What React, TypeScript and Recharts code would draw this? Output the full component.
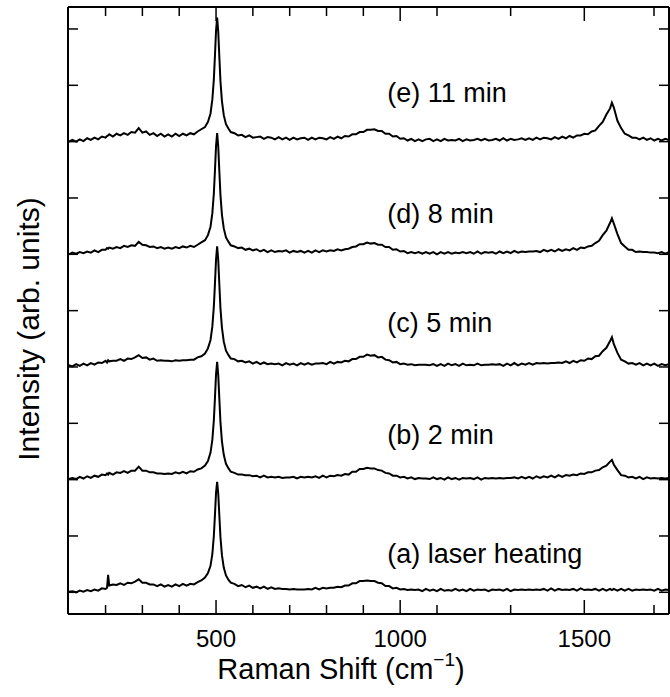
import { LineChart, Line, XAxis, YAxis, ReferenceDot, Label } from "recharts";

// Raman shift (cm-1), shared by every spectrum
const shift = [
  100, 110, 120, 130, 140, 150, 160, 170, 180, 190,
  200, 204, 207, 210, 220, 230, 240, 250, 260, 270, 280, 290,
  300, 310, 320, 330, 340, 350, 360, 370, 380, 390,
  400, 410, 420, 430, 440, 450, 460,
  470, 478, 485, 490, 494, 497, 500, 503, 506, 509, 512, 516, 521, 527, 534, 540,
  550, 560, 570, 580, 590, 600, 610, 620, 630, 640,
  650, 660, 670, 680, 690, 700, 710, 720, 730, 740,
  750, 760, 770, 780, 790, 800, 810, 820, 830, 840,
  850, 860, 870, 880, 890, 900, 910, 920, 930, 940,
  950, 960, 970, 980, 990, 1000, 1010, 1020, 1030, 1040,
  1050, 1060, 1070, 1080, 1090, 1100, 1110, 1120, 1130, 1140,
  1150, 1160, 1170, 1180, 1190, 1200, 1210, 1220, 1230, 1240,
  1250, 1260, 1270, 1280, 1290, 1300, 1310, 1320, 1330, 1340,
  1350, 1360, 1370, 1380, 1390, 1400, 1410, 1420, 1430, 1440,
  1450, 1460, 1470, 1480, 1490, 1500, 1510, 1520, 1530, 1540,
  1550, 1560, 1570, 1575,
  1580, 1590, 1600, 1610, 1620, 1630, 1640, 1650, 1660, 1670, 1680, 1690, 1700, 1710, 1720, 1730,
];

// (a) laser heating
const traceA = [
  0.01, 0.02, 0.00, 0.03, 0.01, 0.04, 0.02, 0.05, 0.03, 0.07,
  0.06, 0.08, 0.31, 0.12, 0.14, 0.13, 0.16, 0.13, 0.17, 0.16, 0.19, 0.23,
  0.17, 0.17, 0.14, 0.14, 0.11, 0.14, 0.10, 0.13, 0.10, 0.14,
  0.11, 0.15, 0.12, 0.15, 0.14, 0.18, 0.21,
  0.26, 0.34, 0.47, 0.68, 1.00, 1.37, 1.77, 1.96, 1.75, 1.36, 0.98, 0.66, 0.44, 0.30, 0.22, 0.17,
  0.15, 0.11, 0.13, 0.09, 0.12, 0.08, 0.10, 0.07, 0.10, 0.06,
  0.09, 0.06, 0.07, 0.06, 0.06, 0.05, 0.06, 0.05, 0.05, 0.05,
  0.06, 0.05, 0.08, 0.05, 0.08, 0.07, 0.08, 0.08, 0.10, 0.09,
  0.12, 0.12, 0.16, 0.16, 0.20, 0.20, 0.21, 0.20, 0.20, 0.17,
  0.16, 0.11, 0.11, 0.07, 0.08, 0.05, 0.06, 0.04, 0.05, 0.04,
  0.05, 0.02, 0.06, 0.03, 0.05, 0.02, 0.06, 0.03, 0.04, 0.03,
  0.06, 0.03, 0.05, 0.02, 0.06, 0.03, 0.05, 0.04, 0.05, 0.02,
  0.05, 0.04, 0.05, 0.03, 0.06, 0.02, 0.05, 0.04, 0.05, 0.04,
  0.05, 0.04, 0.05, 0.04, 0.06, 0.03, 0.07, 0.03, 0.06, 0.04,
  0.05, 0.04, 0.06, 0.03, 0.07, 0.04, 0.05, 0.04, 0.06, 0.03,
  0.06, 0.03, 0.06, 0.04,
  0.06, 0.03, 0.06, 0.03, 0.06, 0.03, 0.05, 0.04, 0.05, 0.04, 0.05, 0.03, 0.06, 0.03, 0.05, 0.04,
];

// (b) 2 min
const traceB = [
  0.01, 0.03, 0.01, 0.05, 0.02, 0.06, 0.03, 0.07, 0.05, 0.09,
  0.08, 0.11, 0.09, 0.12, 0.09, 0.13, 0.12, 0.15, 0.12, 0.16, 0.16, 0.23,
  0.16, 0.16, 0.13, 0.13, 0.11, 0.11, 0.10, 0.11, 0.10, 0.13,
  0.11, 0.14, 0.11, 0.15, 0.14, 0.18, 0.20,
  0.25, 0.33, 0.48, 0.71, 1.05, 1.44, 1.87, 2.09, 1.85, 1.43, 1.02, 0.68, 0.44, 0.28, 0.20, 0.14,
  0.12, 0.09, 0.09, 0.08, 0.08, 0.06, 0.07, 0.04, 0.07, 0.04,
  0.05, 0.04, 0.05, 0.03, 0.04, 0.04, 0.05, 0.02, 0.05, 0.04,
  0.05, 0.04, 0.06, 0.03, 0.07, 0.04, 0.07, 0.06, 0.08, 0.07,
  0.10, 0.09, 0.14, 0.14, 0.19, 0.19, 0.21, 0.20, 0.20, 0.17,
  0.16, 0.12, 0.11, 0.07, 0.07, 0.04, 0.05, 0.02, 0.04, 0.01,
  0.03, 0.02, 0.02, 0.01, 0.04, 0.01, 0.03, 0.00, 0.04, 0.01,
  0.03, 0.00, 0.03, 0.02, 0.03, 0.01, 0.04, 0.00, 0.03, 0.02,
  0.03, 0.02, 0.03, 0.02, 0.03, 0.03, 0.04, 0.02, 0.05, 0.02,
  0.05, 0.02, 0.06, 0.03, 0.06, 0.04, 0.07, 0.04, 0.08, 0.05,
  0.08, 0.07, 0.09, 0.08, 0.11, 0.10, 0.13, 0.13, 0.16, 0.17,
  0.22, 0.25, 0.32, 0.35,
  0.27, 0.17, 0.08, 0.07, 0.04, 0.05, 0.02, 0.05, 0.01, 0.04, 0.02, 0.03, 0.02, 0.03, 0.02, 0.03,
];

// (c) 5 min
const traceC = [
  0.03, 0.01, 0.05, 0.02, 0.06, 0.03, 0.07, 0.04, 0.08, 0.07,
  0.11, 0.08, 0.12, 0.10, 0.11, 0.11, 0.14, 0.11, 0.15, 0.14, 0.17, 0.21,
  0.16, 0.17, 0.13, 0.15, 0.11, 0.12, 0.11, 0.11, 0.10, 0.12,
  0.11, 0.12, 0.12, 0.13, 0.13, 0.17, 0.19,
  0.24, 0.33, 0.48, 0.72, 1.07, 1.47, 1.91, 2.14, 1.90, 1.46, 1.04, 0.70, 0.45, 0.29, 0.21, 0.15,
  0.14, 0.10, 0.11, 0.08, 0.10, 0.06, 0.09, 0.05, 0.08, 0.05,
  0.06, 0.05, 0.06, 0.03, 0.07, 0.04, 0.06, 0.03, 0.07, 0.04,
  0.07, 0.04, 0.06, 0.06, 0.07, 0.05, 0.09, 0.06, 0.09, 0.08,
  0.11, 0.10, 0.14, 0.14, 0.18, 0.18, 0.22, 0.20, 0.21, 0.17,
  0.18, 0.13, 0.12, 0.08, 0.09, 0.05, 0.06, 0.04, 0.05, 0.03,
  0.04, 0.04, 0.04, 0.03, 0.05, 0.02, 0.05, 0.02, 0.06, 0.03,
  0.05, 0.02, 0.06, 0.03, 0.04, 0.03, 0.06, 0.03, 0.04, 0.04,
  0.05, 0.04, 0.05, 0.02, 0.06, 0.03, 0.07, 0.03, 0.06, 0.04,
  0.07, 0.04, 0.07, 0.06, 0.07, 0.06, 0.07, 0.07, 0.08, 0.07,
  0.10, 0.07, 0.11, 0.08, 0.12, 0.11, 0.15, 0.14, 0.19, 0.20,
  0.28, 0.34, 0.46, 0.53,
  0.41, 0.25, 0.13, 0.10, 0.06, 0.07, 0.04, 0.07, 0.03, 0.06, 0.03, 0.06, 0.02, 0.05, 0.03, 0.05,
];

// (d) 8 min
const traceD = [
  0.00, 0.03, 0.01, 0.04, 0.02, 0.05, 0.03, 0.07, 0.04, 0.08,
  0.08, 0.11, 0.10, 0.12, 0.10, 0.13, 0.11, 0.15, 0.13, 0.16, 0.15, 0.22,
  0.17, 0.16, 0.13, 0.14, 0.11, 0.13, 0.10, 0.12, 0.10, 0.13,
  0.11, 0.14, 0.12, 0.15, 0.13, 0.17, 0.21,
  0.25, 0.34, 0.49, 0.73, 1.08, 1.48, 1.92, 2.15, 1.91, 1.47, 1.05, 0.70, 0.46, 0.30, 0.22, 0.16,
  0.14, 0.11, 0.12, 0.08, 0.10, 0.07, 0.09, 0.05, 0.08, 0.04,
  0.07, 0.04, 0.06, 0.05, 0.07, 0.03, 0.06, 0.04, 0.06, 0.03,
  0.06, 0.03, 0.07, 0.04, 0.07, 0.05, 0.07, 0.06, 0.09, 0.07,
  0.09, 0.10, 0.13, 0.14, 0.18, 0.18, 0.21, 0.19, 0.20, 0.17,
  0.17, 0.13, 0.13, 0.08, 0.09, 0.05, 0.06, 0.02, 0.04, 0.02,
  0.04, 0.01, 0.04, 0.01, 0.04, 0.00, 0.04, 0.01, 0.04, 0.01,
  0.03, 0.02, 0.04, 0.02, 0.04, 0.01, 0.05, 0.01, 0.04, 0.03,
  0.04, 0.01, 0.05, 0.02, 0.05, 0.02, 0.06, 0.03, 0.05, 0.04,
  0.05, 0.05, 0.06, 0.04, 0.08, 0.05, 0.08, 0.05, 0.09, 0.06,
  0.09, 0.07, 0.11, 0.08, 0.12, 0.11, 0.14, 0.15, 0.20, 0.24,
  0.34, 0.42, 0.56, 0.64,
  0.55, 0.36, 0.20, 0.14, 0.08, 0.08, 0.04, 0.05, 0.04, 0.04, 0.03, 0.03, 0.02, 0.04, 0.01, 0.04,
];

// (e) 11 min
const traceE = [
  0.00, 0.03, 0.00, 0.04, 0.01, 0.06, 0.03, 0.07, 0.04, 0.09,
  0.07, 0.10, 0.11, 0.13, 0.09, 0.14, 0.11, 0.15, 0.12, 0.17, 0.16, 0.24,
  0.16, 0.18, 0.12, 0.15, 0.10, 0.14, 0.09, 0.13, 0.09, 0.14,
  0.10, 0.14, 0.11, 0.15, 0.13, 0.18, 0.22,
  0.26, 0.35, 0.50, 0.75, 1.10, 1.52, 1.97, 2.20, 1.95, 1.50, 1.07, 0.72, 0.47, 0.31, 0.23, 0.17,
  0.15, 0.11, 0.12, 0.08, 0.11, 0.07, 0.08, 0.09, 0.05, 0.08,
  0.07, 0.04, 0.08, 0.04, 0.07, 0.03, 0.07, 0.04, 0.06, 0.07,
  0.03, 0.07, 0.04, 0.07, 0.06, 0.04, 0.08, 0.05, 0.09, 0.06,
  0.10, 0.09, 0.13, 0.13, 0.17, 0.17, 0.21, 0.21, 0.22, 0.19,
  0.19, 0.14, 0.14, 0.09, 0.10, 0.05, 0.06, 0.02, 0.05, 0.01,
  0.04, 0.01, 0.04, 0.05, 0.01, 0.04, 0.01, 0.05, 0.02, 0.03,
  0.02, 0.05, 0.01, 0.04, 0.02, 0.03, 0.05, 0.02, 0.05, 0.02,
  0.03, 0.05, 0.02, 0.06, 0.02, 0.05, 0.03, 0.04, 0.06, 0.03,
  0.06, 0.03, 0.07, 0.04, 0.07, 0.06, 0.04, 0.08, 0.05, 0.09,
  0.06, 0.10, 0.07, 0.11, 0.11, 0.14, 0.13, 0.18, 0.20, 0.28,
  0.35, 0.48, 0.59, 0.69,
  0.61, 0.37, 0.24, 0.14, 0.11, 0.07, 0.07, 0.04, 0.07, 0.03, 0.06, 0.02, 0.05, 0.02, 0.05, 0.03,
];

const keys = ["a", "b", "c", "d", "e"];
const series = [traceA, traceB, traceC, traceD, traceE];
const offsets = [0, 2, 4, 6, 8]; // vertical stacking
const labels = ["(a) laser heating", "(b) 2 min", "(c) 5 min", "(d) 8 min", "(e) 11 min"];
const labelY = [0.52, 2.63, 4.62, 6.56, 8.7];
const LABEL_X = 965;

const xTicks = [200, 300, 400, 500, 600, 700, 800, 900, 1000, 1100, 1200, 1300, 1400, 1500, 1600, 1700];
const xMajor = [500, 1000, 1500];
const yTicks = [0, 1, 2, 3, 4, 5, 6, 7, 8, 9, 10];

const rows = shift.map((x, i) => {
  const r: Record<string, number> = { x };
  series.forEach((s, k) => {
    r[keys[k]] = s[i] + offsets[k];
  });
  return r;
});

const FONT = "'Liberation Sans', Arial, Helvetica, sans-serif";
const INK = "#000";

const BottomTick = (p: any) => {
  const v = p.payload.value;
  const major = xMajor.includes(v);
  return (
    <g>
      <line x1={p.x} x2={p.x} y1={p.y} y2={p.y - (major ? 14 : 9)} stroke={INK} strokeWidth={1.5} />
      {major && (
        <text x={p.x} y={p.y + 33} textAnchor="middle" fontSize={24} fill={INK} fontFamily={FONT}>
          {v}
        </text>
      )}
    </g>
  );
};

const TopTick = (p: any) => {
  const major = xMajor.includes(p.payload.value);
  return <line x1={p.x} x2={p.x} y1={p.y} y2={p.y + (major ? 14 : 9)} stroke={INK} strokeWidth={1.5} />;
};

const LeftTick = (p: any) => <line x1={p.x} x2={p.x + 10} y1={p.y} y2={p.y} stroke={INK} strokeWidth={1.5} />;
const RightTick = (p: any) => <line x1={p.x} x2={p.x - 10} y1={p.y} y2={p.y} stroke={INK} strokeWidth={1.5} />;

export default function App() {
  return (
    <div style={{ position: "absolute", left: 0, top: 0, background: "#fff" }}>
      <LineChart width={670} height={697} data={rows} margin={{ top: 0, right: 0, bottom: 0, left: 0 }}>
        <XAxis
          xAxisId="bottom"
          dataKey="x"
          type="number"
          domain={[98, 1730]}
          allowDataOverflow
          ticks={xTicks}
          height={83}
          tickSize={0}
          tickMargin={0}
          tickLine={false}
          tick={BottomTick}
          axisLine={{ stroke: INK, strokeWidth: 2 }}
        >
          <Label
            content={() => (
              <text x={341} y={679} textAnchor="middle" fontSize={29} fill={INK} fontFamily={FONT}>
                <tspan>Raman Shift (cm</tspan>
                <tspan dy={-13} fontSize={19}>−1</tspan>
                <tspan dy={13}>)</tspan>
              </text>
            )}
          />
        </XAxis>
        <XAxis
          xAxisId="top"
          orientation="top"
          dataKey="x"
          type="number"
          domain={[98, 1730]}
          allowDataOverflow
          ticks={xTicks}
          height={7}
          tickSize={0}
          tickMargin={0}
          tickLine={false}
          tick={TopTick}
          axisLine={{ stroke: INK, strokeWidth: 2 }}
        />
        <YAxis
          yAxisId="left"
          type="number"
          domain={[-0.385, 10.39]}
          allowDataOverflow
          ticks={yTicks}
          width={68}
          tickSize={0}
          tickMargin={0}
          tickLine={false}
          tick={LeftTick}
          axisLine={{ stroke: INK, strokeWidth: 2 }}
        >
          <Label
            content={() => (
              <text
                x={28}
                y={329}
                transform="rotate(-90 28 329)"
                textAnchor="middle"
                dominantBaseline="central"
                fontSize={30}
                fill={INK}
                fontFamily={FONT}
              >
                Intensity (arb. units)
              </text>
            )}
          />
        </YAxis>
        <YAxis
          yAxisId="right"
          orientation="right"
          type="number"
          domain={[-0.385, 10.39]}
          allowDataOverflow
          ticks={yTicks}
          width={1}
          tickSize={0}
          tickMargin={0}
          tickLine={false}
          tick={RightTick}
          axisLine={{ stroke: INK, strokeWidth: 2 }}
        />
        {keys.map((k) => (
          <Line
            key={k}
            xAxisId="bottom"
            yAxisId="left"
            type="linear"
            dataKey={k}
            stroke={INK}
            strokeWidth={2}
            dot={false}
            activeDot={false}
            isAnimationActive={false}
          />
        ))}
        {labels.map((t, i) => (
          <ReferenceDot
            key={t}
            xAxisId="bottom"
            yAxisId="left"
            x={LABEL_X}
            y={labelY[i]}
            r={0}
            fill="none"
            stroke="none"
            label={{
              content: (p: any) => (
                <text x={p.viewBox.x} y={p.viewBox.y} fontSize={27} fill={INK} fontFamily={FONT}>
                  {t}
                </text>
              ),
            }}
          />
        ))}
      </LineChart>
    </div>
  );
}
